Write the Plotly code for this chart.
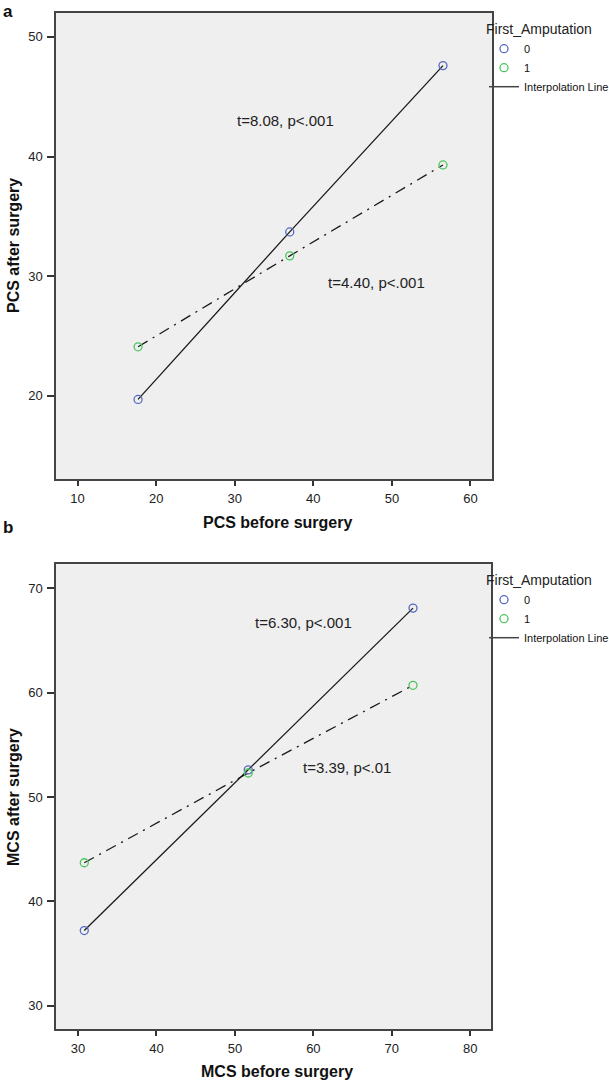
import plotly.graph_objects as go

# Panel a data
pcs_before = [17.7, 37.0, 56.5]
pcs_after_0 = [19.7, 33.7, 47.6]
pcs_after_1 = [24.1, 31.7, 39.3]
# Panel b data
mcs_before = [30.8, 51.7, 72.7]
mcs_after_0 = [37.2, 52.6, 68.1]
mcs_after_1 = [43.7, 52.3, 60.7]

groups = ["0", "1"]
annot_a = ["t=8.08, p<.001", "t=4.40, p<.001"]
annot_b = ["t=6.30, p<.001", "t=3.39, p<.01"]

BLUE = "#5669c0"
GREEN = "#4cc45c"
LINE = "#1a1a1a"
FONT = "Liberation Sans, Arial, sans-serif"

fig = go.Figure()

def add_panel(xv, y0, y1, xa, ya, legend):
    fig.add_trace(go.Scatter(x=xv, y=y0, mode="lines", line=dict(color=LINE, width=1.3),
                             xaxis=xa, yaxis=ya, showlegend=False, hoverinfo="skip"))
    fig.add_trace(go.Scatter(x=xv, y=y1, mode="lines",
                             line=dict(color=LINE, width=1.3, dash="11px,6px,2px,6px"),
                             xaxis=xa, yaxis=ya, showlegend=False, hoverinfo="skip"))
    fig.add_trace(go.Scatter(x=xv, y=y0, mode="markers", name=groups[0],
                             marker=dict(symbol="circle-open", size=8, color=BLUE, line=dict(width=1.3)),
                             xaxis=xa, yaxis=ya, legend=legend))
    fig.add_trace(go.Scatter(x=xv, y=y1, mode="markers", name=groups[1],
                             marker=dict(symbol="circle-open", size=8, color=GREEN, line=dict(width=1.3)),
                             xaxis=xa, yaxis=ya, legend=legend))
    fig.add_trace(go.Scatter(x=[None], y=[None], mode="lines", name="Interpolation Line",
                             line=dict(color="#444444", width=1.5),
                             xaxis=xa, yaxis=ya, legend=legend))

add_panel(pcs_before, pcs_after_0, pcs_after_1, "x", "y", "legend")
add_panel(mcs_before, mcs_after_0, mcs_after_1, "x2", "y2", "legend2")

ax_common = dict(showgrid=False, zeroline=False, showline=True, linecolor="#444444", linewidth=1.5,
                 mirror=True, ticks="outside", tickcolor="#333333", tickwidth=1.5,
                 tickfont=dict(family=FONT, size=13, color="#222222"))

leg_common = dict(xanchor="left", yanchor="top", bgcolor="rgba(0,0,0,0)",
                  title=dict(text="First_Amputation", font=dict(size=14, family=FONT, color="#222")),
                  font=dict(size=11, family=FONT, color="#111"), tracegroupgap=0, itemwidth=30)

fig.update_layout(
    width=609, height=1082,
    margin=dict(l=0, r=0, t=0, b=0, autoexpand=False),
    paper_bgcolor="white",
    plot_bgcolor="#efefef",
    font=dict(family=FONT, color="#222222"),
    xaxis=dict(domain=[0.0920, 0.8079], range=[7.26, 62.74], tickvals=[10, 20, 30, 40, 50, 60],
               ticklen=5, ticklabelstandoff=2, anchor="y", **ax_common),
    yaxis=dict(domain=[0.5573, 0.9880], range=[13.05, 52.0], tickvals=[20, 30, 40, 50],
               ticklen=7, ticklabelstandoff=2, anchor="x", **ax_common),
    xaxis2=dict(domain=[0.0920, 0.8070], range=[27.2, 82.7], tickvals=[30, 40, 50, 60, 70, 80],
                ticklen=5, ticklabelstandoff=2, anchor="y2", **ax_common),
    yaxis2=dict(domain=[0.0490, 0.4785], range=[27.77, 72.3], tickvals=[30, 40, 50, 60, 70],
                ticklen=7, ticklabelstandoff=2, anchor="x2", **ax_common),
    legend=dict(x=484 / 609, y=1 - 16 / 1082, **leg_common),
    legend2=dict(x=484 / 609, y=1 - 567 / 1082, **leg_common),
)

anns = []
tf = dict(size=15, family=FONT, color="#222")
anns.append(dict(x=36.5, y=43.05, xref="x", yref="y", text=annot_a[0], showarrow=False, font=tf))
anns.append(dict(x=48.0, y=29.5, xref="x", yref="y", text=annot_a[1], showarrow=False, font=tf))
anns.append(dict(x=58.7, y=66.7, xref="x2", yref="y2", text=annot_b[0], showarrow=False, font=tf))
anns.append(dict(x=64.3, y=52.8, xref="x2", yref="y2", text=annot_b[1], showarrow=False, font=tf))

def pa(xp, yp, text, angle=0, size=16):
    return dict(x=xp / 609, y=1 - yp / 1082, xref="paper", yref="paper", text="<b>%s</b>" % text,
                showarrow=False, textangle=angle, font=dict(size=size, family=FONT, color="#111"),
                xanchor="center", yanchor="middle")

anns.append(pa(277, 522, "PCS before surgery"))
anns.append(pa(13, 246, "PCS after surgery", angle=-90))
anns.append(pa(277, 1071, "MCS before surgery"))
anns.append(pa(13, 797, "MCS after surgery", angle=-90))
anns.append(pa(8, 11, "a", size=17))
anns.append(pa(8, 527, "b", size=17))
fig.update_layout(annotations=anns)

fig.write_html("out.html", config={"displayModeBar": False},
               post_script="document.body.style.margin='0';document.body.style.overflow='hidden';")
